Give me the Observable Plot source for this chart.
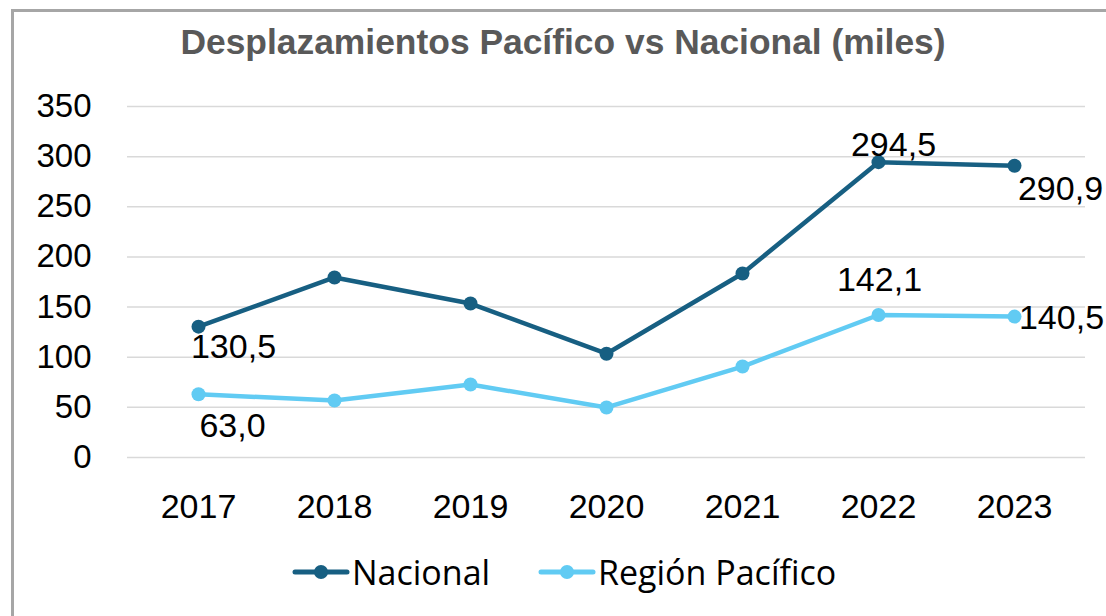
<!DOCTYPE html>
<html>
<head>
<meta charset="utf-8">
<script src="https://cdn.jsdelivr.net/npm/d3@7"></script>
<script src="https://cdn.jsdelivr.net/npm/@observablehq/plot@0.6"></script>
<style>
  html, body { margin: 0; padding: 0; background: #ffffff; }
  #page { position: relative; width: 1106px; height: 616px; overflow: hidden; background: #ffffff; font-family: "Liberation Sans", Arial, sans-serif; }
  #frame { position: absolute; left: 11px; top: 9px; width: 1200px; height: 700px; border-left: 3px solid #a6a6a6; border-top: 3px solid #a6a6a6; box-sizing: border-box; background: #fff; }
  #title { position: absolute; left: 0; width: 1126px; top: 22px; text-align: center; font-weight: bold; font-size: 35.4px; line-height: 40px; color: #595959; white-space: nowrap; }
  #chart { position: absolute; left: 0; top: 90px; }
  #legend { position: absolute; top: 552px; left: 0; width: 1106px; height: 40px; font-family: "Open Sans", "Liberation Sans", sans-serif; font-size: 34px; color: #000; }
  .item { position: absolute; top: 0; display: flex; align-items: center; height: 40px; white-space: nowrap; }
  .item svg { margin-right: 2px; }
</style>
</head>
<body>
<div id="page">
  <div id="frame"></div>
  <div id="title">Desplazamientos Pacífico vs Nacional (miles)</div>
  <div id="chart"></div>
  <div id="legend"></div>
</div>
<script>
const years = ["2017", "2018", "2019", "2020", "2021", "2022", "2023"];
const nacional = [130.5, 179.5, 153.5, 103.5, 183.5, 294.5, 290.9];
const pacifico = [63.0, 56.8, 72.8, 49.9, 90.7, 142.1, 140.5];
const seriesNames = ["Nacional", "Región Pacífico"];
const seriesColors = ["#175f82", "#61cbf3"];
const yTicks = [0, 50, 100, 150, 200, 250, 300, 350];

const fmt = v => v.toFixed(1).replace(".", ",");

const data = [
  ...years.map((y, i) => ({year: y, value: nacional[i], series: seriesNames[0]})),
  ...years.map((y, i) => ({year: y, value: pacifico[i], series: seriesNames[1]}))
];

const lab = (series, year) => data.filter(d => d.series === series && d.year === year);
const txt = {fontSize: 34, fill: "#000", fontFamily: "Liberation Sans, Arial, sans-serif", text: d => fmt(d.value)};

const chart = Plot.plot({
  width: 1106,
  height: 440,
  marginLeft: 127,
  marginRight: 21,
  marginTop: 16,
  marginBottom: 73,
  style: {background: "transparent", fontFamily: "Liberation Sans, Arial, sans-serif", fontSize: "33px", color: "#000", overflow: "visible"},
  x: {type: "point", domain: years, padding: 0.5, label: null},
  y: {domain: [0, 350], ticks: yTicks, label: null},
  color: {domain: seriesNames, range: seriesColors},
  marks: [
    Plot.ruleY(yTicks, {stroke: "#d9d9d9", strokeWidth: 1.5}),
    Plot.axisY({ticks: yTicks, tickSize: 0, tickPadding: 36, fontSize: 33, label: null}),
    Plot.axisX({tickSize: 0, tickPadding: 36, fontSize: 34, label: null}),
    Plot.line(data, {x: "year", y: "value", z: "series", stroke: "series", strokeWidth: 4.5, strokeLinejoin: "round", strokeLinecap: "round"}),
    Plot.dot(data, {x: "year", y: "value", fill: "series", r: 7}),
    Plot.text(lab("Nacional", "2017"), {x: "year", y: "value", ...txt, dx: 35, dy: 20}),
    Plot.text(lab("Nacional", "2022"), {x: "year", y: "value", ...txt, dx: 15, dy: -17}),
    Plot.text(lab("Nacional", "2023"), {x: "year", y: "value", ...txt, dx: 46, dy: 23}),
    Plot.text(lab("Región Pacífico", "2017"), {x: "year", y: "value", ...txt, dx: 34, dy: 32}),
    Plot.text(lab("Región Pacífico", "2022"), {x: "year", y: "value", ...txt, dx: 1, dy: -35}),
    Plot.text(lab("Región Pacífico", "2023"), {x: "year", y: "value", ...txt, dx: 47, dy: 2})
  ]
});
document.getElementById("chart").appendChild(chart);

// legend
const legend = document.getElementById("legend");
const lefts = [292, 538];
seriesNames.forEach((name, i) => {
  const item = document.createElement("div");
  item.className = "item";
  item.style.left = lefts[i] + "px";
  item.innerHTML = `<svg width="58" height="20"><line x1="3" y1="10" x2="55" y2="10" stroke="${seriesColors[i]}" stroke-width="5" stroke-linecap="round"/><circle cx="29" cy="10" r="7" fill="${seriesColors[i]}"/></svg><span>${name}</span>`;
  legend.appendChild(item);
});
</script>
</body>
</html>
